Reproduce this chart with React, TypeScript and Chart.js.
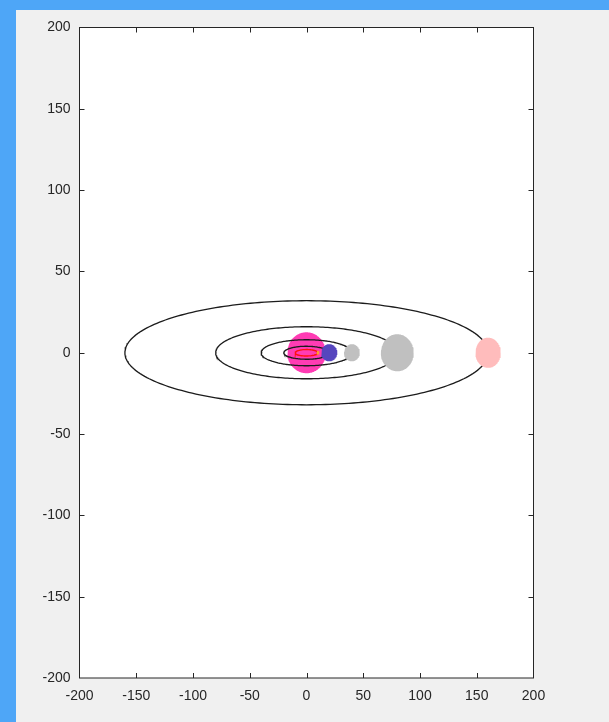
import React, { useEffect, useRef } from "react";
import { Chart, registerables } from "chart.js";

Chart.register(...registerables);

// axis ticks (both axes)
const axisTicks = [-200, -150, -100, -50, 0, 50, 100, 150, 200];

// orbits: semi-axes (data units), centred at origin
const orbitA = [10, 20, 40, 80, 160];
const orbitB = [2, 4, 8, 16, 32];
const orbitColors = ["#ff1010", "#1c1c1c", "#1c1c1c", "#1c1c1c", "#1c1c1c"];

// bodies: centre and radii (data units)
const bodyNames = ["Sun", "Body 1", "Body 2", "Body 3", "Body 4", "Body 5"];
const bodyX = [0, 10, 20, 40, 80, 160];
const bodyY = [0, 0, 0, 0, 0, 0];
const bodyRx = [17, 1.4, 7.2, 7, 14.5, 11.2];
const bodyRy = [12.6, 1.2, 5.3, 5.3, 11.4, 9.3];
const bodyColors = [
  "rgb(255,60,180)",
  "rgb(255,160,40)",
  "rgb(86,70,190)",
  "rgb(192,192,192)",
  "rgb(192,192,192)",
  "rgb(255,188,188)",
];

function ellipse(cx: number, cy: number, rx: number, ry: number, n = 160) {
  const pts: { x: number; y: number }[] = [];
  for (let i = 0; i <= n; i++) {
    const t = (i / n) * Math.PI * 2;
    pts.push({ x: cx + rx * Math.cos(t), y: cy + ry * Math.sin(t) });
  }
  return pts;
}

const AXIS_COLOR = "#262626";
const FONT = { family: "'Liberation Sans', Arial, Helvetica, sans-serif", size: 14 };

const boxPlugin = {
  id: "matlabBox",
  beforeDraw(chart: any) {
    const { ctx, chartArea: a } = chart;
    ctx.save();
    ctx.fillStyle = "#ffffff";
    ctx.fillRect(a.left, a.top, a.right - a.left, a.bottom - a.top);
    ctx.restore();
  },
  afterDatasetsDraw(chart: any) {
    const { ctx, chartArea: a, scales } = chart;
    const xs = scales.x;
    const ys = scales.y;
    const tl = 5;
    ctx.save();
    ctx.strokeStyle = AXIS_COLOR;
    ctx.lineWidth = 1;
    ctx.beginPath();
    for (const v of axisTicks.slice(1, -1)) {
      const px = Math.round(xs.getPixelForValue(v)) + 0.5;
      ctx.moveTo(px, a.bottom);
      ctx.lineTo(px, a.bottom - tl);
      ctx.moveTo(px, a.top);
      ctx.lineTo(px, a.top + tl);
      const py = Math.round(ys.getPixelForValue(v)) + 0.5;
      ctx.moveTo(a.left, py);
      ctx.lineTo(a.left + tl, py);
      ctx.moveTo(a.right, py);
      ctx.lineTo(a.right - tl, py);
    }
    ctx.stroke();
    ctx.strokeRect(a.left, a.top, a.right - a.left, a.bottom - a.top);
    ctx.restore();
  },
};

export default function App() {
  const ref = useRef<HTMLCanvasElement | null>(null);

  useEffect(() => {
    if (!ref.current) return;
    const datasets: any[] = [];
    datasets.push({
      label: bodyNames[0],
      data: ellipse(bodyX[0], bodyY[0], bodyRx[0], bodyRy[0]),
      showLine: true,
      fill: "shape",
      backgroundColor: bodyColors[0],
      borderColor: bodyColors[0],
      borderWidth: 0,
      pointRadius: 0,
      order: 3,
    });
    orbitA.forEach((a, i) => {
      datasets.push({
        label: "orbit " + (i + 1),
        data: ellipse(0, 0, a, orbitB[i], 240),
        showLine: true,
        fill: false,
        borderColor: orbitColors[i],
        borderWidth: 1.3,
        pointRadius: 0,
        order: 2,
      });
    });
    for (let i = 1; i < bodyX.length; i++) {
      datasets.push({
        label: bodyNames[i],
        data: ellipse(bodyX[i], bodyY[i], bodyRx[i], bodyRy[i]),
        showLine: true,
        fill: "shape",
        backgroundColor: bodyColors[i],
        borderColor: bodyColors[i],
        borderWidth: 0,
        pointRadius: 0,
        order: 1,
      });
    }

    const chart = new Chart(ref.current, {
      type: "scatter",
      data: { datasets },
      plugins: [boxPlugin],
      options: {
        animation: false,
        responsive: false,
        maintainAspectRatio: false,
        layout: { padding: { left: 0, top: 27.5, right: 75.5, bottom: 0 } },
        plugins: { legend: { display: false }, tooltip: { enabled: false } },
        scales: {
          x: {
            type: "linear",
            min: -200,
            max: 200,
            afterFit: (s: any) => {
              s.height = 44;
            },
            afterBuildTicks: (s: any) => {
              s.ticks = axisTicks.map((v) => ({ value: v }));
            },
            ticks: { color: AXIS_COLOR, font: FONT, padding: 10, autoSkip: false, maxRotation: 0 },
            grid: { display: false, drawTicks: false },
            border: { display: false },
          },
          y: {
            type: "linear",
            min: -200,
            max: 200,
            afterFit: (s: any) => {
              s.width = 79.5;
            },
            afterBuildTicks: (s: any) => {
              s.ticks = axisTicks.map((v) => ({ value: v }));
            },
            ticks: { color: AXIS_COLOR, font: FONT, padding: 9, autoSkip: false },
            grid: { display: false, drawTicks: false },
            border: { display: false },
          },
        },
      },
    });
    return () => chart.destroy();
  }, []);

  return (
    <div
      style={{
        position: "absolute",
        left: 0,
        top: 0,
        width: 609,
        height: 722,
        background: "#f0f0f0",
        overflow: "hidden",
      }}
    >
      <div style={{ position: "absolute", left: 0, top: 0, width: 609, height: 10, background: "rgb(78,166,247)" }} />
      <div style={{ position: "absolute", left: 0, top: 0, width: 16, height: 722, background: "rgb(78,166,247)" }} />
      <canvas ref={ref} width={609} height={722} style={{ position: "absolute", left: 0, top: 0 }} />
    </div>
  );
}
